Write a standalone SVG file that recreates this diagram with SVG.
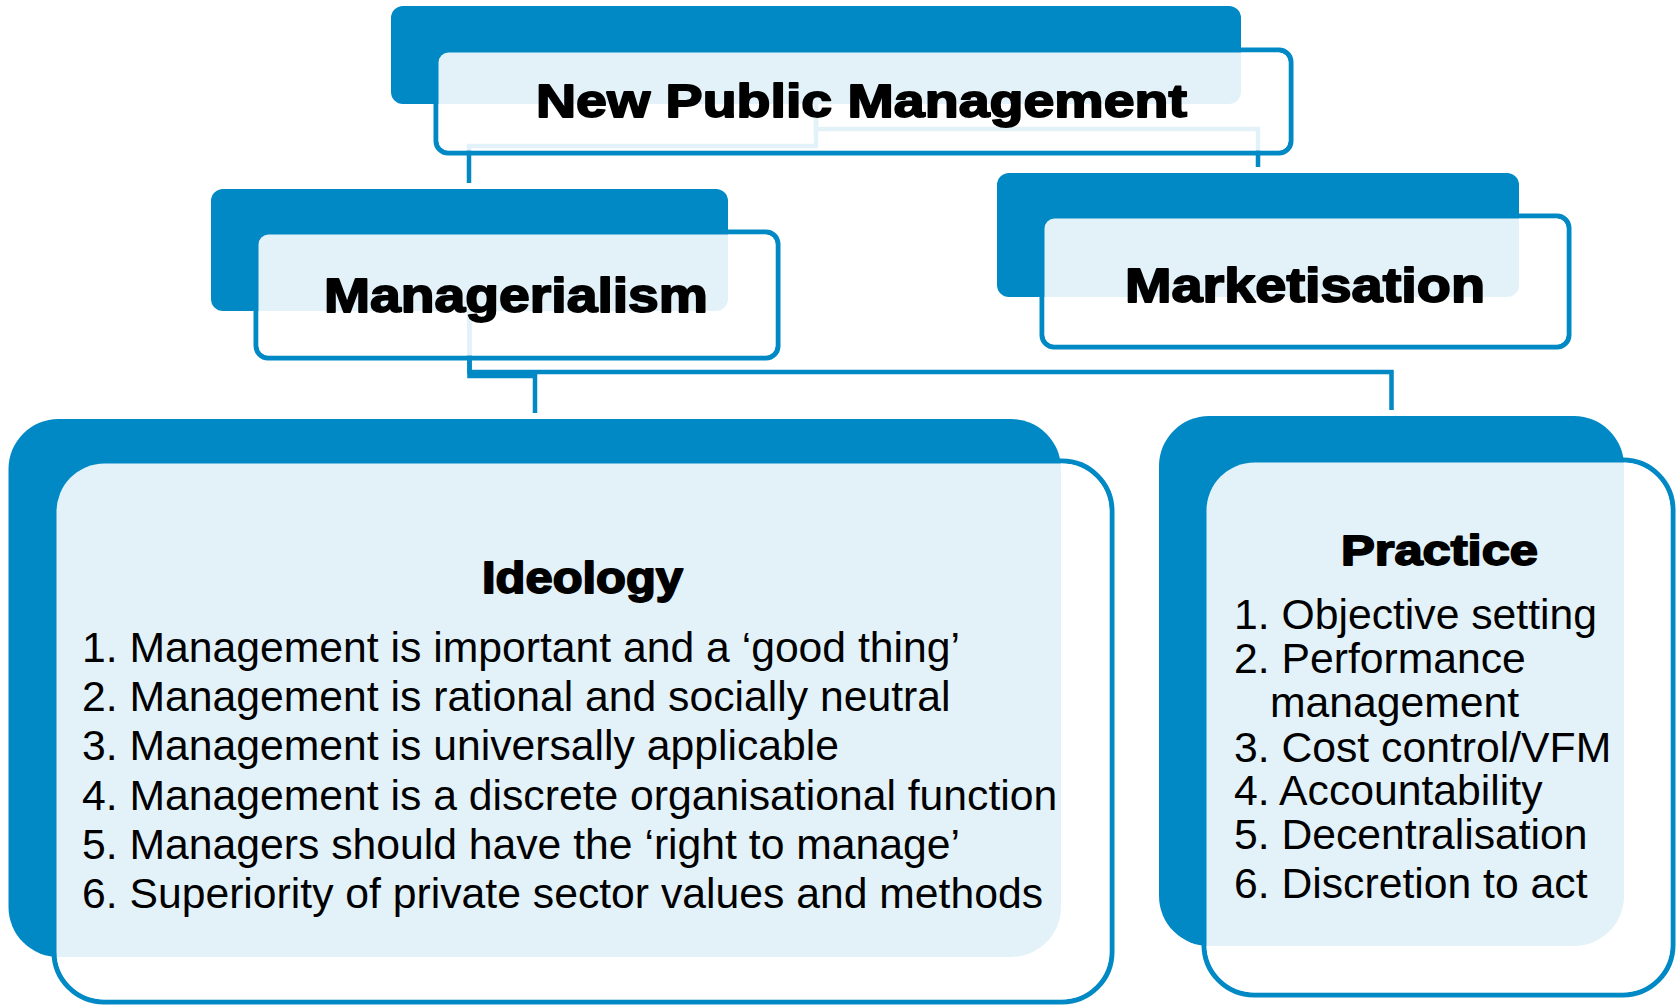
<svg xmlns="http://www.w3.org/2000/svg" width="1677" height="1005" viewBox="0 0 1677 1005">
<style>
.dark{fill:#0089C4;}
.outline{fill:none;stroke:#0089C4;stroke-width:5;}
.veil{fill:#FFFFFF;fill-opacity:0.89;}
.conn{fill:none;stroke:#0089C4;stroke-width:4.5;stroke-linejoin:miter;}
.title{font-family:"Liberation Sans",Arial,sans-serif;font-weight:bold;fill:#000;stroke:#000;stroke-width:1.8;stroke-linejoin:round;}
.item{font-family:"Liberation Sans",Arial,sans-serif;font-size:42.7px;fill:#000;}
</style>
<rect width="1677" height="1005" fill="#FFFFFF"/>
<g id="connectors">
<path class="conn" d="M816 104 V146 H469 V183"/>
<path class="conn" d="M816 104 V129 H1258 V167"/>
<path class="conn" d="M469.5 311 V376 H535 V413"/>
<path class="conn" d="M469.5 311 V372 H1391.5 V410"/>
</g>
<g id="node-npm">
<rect class="outline" x="436" y="50" width="855" height="103" rx="12"/>
<rect class="dark" x="391" y="6" width="850" height="98" rx="12"/>
<rect class="veil" x="438.5" y="52.5" width="850" height="98" rx="10"/>
<text class="title" x="536" y="117" font-size="47" textLength="651" lengthAdjust="spacingAndGlyphs">New Public Management</text>
</g>
<g id="node-managerialism">
<rect class="outline" x="256" y="232" width="522" height="126" rx="12"/>
<rect class="dark" x="211" y="189" width="517" height="122" rx="12"/>
<rect class="veil" x="258.5" y="234.5" width="517" height="121" rx="10"/>
<text class="title" x="324" y="311.5" font-size="48" textLength="384" lengthAdjust="spacingAndGlyphs">Managerialism</text>
</g>
<g id="node-marketisation">
<rect class="outline" x="1042" y="216" width="527" height="131" rx="12"/>
<rect class="dark" x="997" y="173" width="522" height="124" rx="12"/>
<rect class="veil" x="1044.5" y="218.5" width="522" height="126" rx="10"/>
<text class="title" x="1125" y="302" font-size="48" textLength="360" lengthAdjust="spacingAndGlyphs">Marketisation</text>
</g>
<g id="node-ideology">
<rect class="outline" x="54" y="461" width="1058" height="541" rx="50"/>
<rect class="dark" x="8.5" y="419" width="1052.5" height="538" rx="50"/>
<rect class="veil" x="56.5" y="463.5" width="1053" height="536" rx="48"/>
<text class="title" x="482" y="593" font-size="43.5" textLength="201" lengthAdjust="spacingAndGlyphs">Ideology</text>
<text class="item" x="82" y="662">1. Management is important and a ‘good thing’</text>
<text class="item" x="82" y="711">2. Management is rational and socially neutral</text>
<text class="item" x="82" y="760">3. Management is universally applicable</text>
<text class="item" x="82" y="810">4. Management is a discrete organisational function</text>
<text class="item" x="82" y="859">5. Managers should have the ‘right to manage’</text>
<text class="item" x="82" y="908">6. Superiority of private sector values and methods</text>
</g>
<g id="node-practice">
<rect class="outline" x="1204" y="460" width="469" height="535" rx="50"/>
<rect class="dark" x="1159" y="416" width="465" height="530" rx="50"/>
<rect class="veil" x="1206.5" y="462.5" width="464" height="530" rx="48"/>
<text class="title" x="1341" y="565" font-size="42" textLength="197" lengthAdjust="spacingAndGlyphs">Practice</text>
<text class="item" x="1234" y="629">1. Objective setting</text>
<text class="item" x="1234" y="673">2. Performance</text>
<text class="item" x="1270" y="717">management</text>
<text class="item" x="1234" y="762">3. Cost control/VFM</text>
<text class="item" x="1234" y="805">4. Accountability</text>
<text class="item" x="1234" y="849">5. Decentralisation</text>
<text class="item" x="1234" y="898">6. Discretion to act</text>
</g>
</svg>
